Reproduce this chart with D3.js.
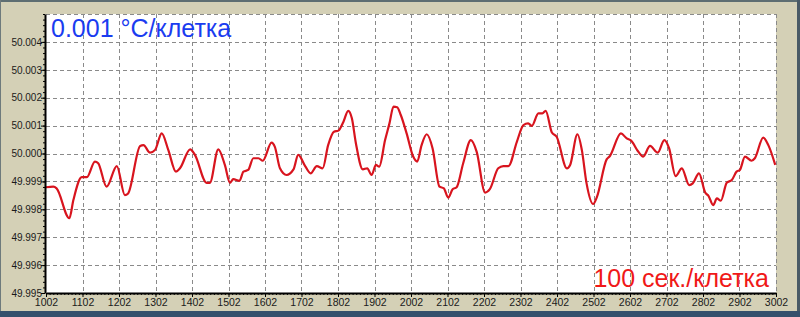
<!DOCTYPE html>
<html>
<head>
<meta charset="utf-8">
<script src="https://cdn.jsdelivr.net/npm/d3@7"></script>
<style>
  html, body { margin: 0; padding: 0; background: #d4d0b6; }
  svg { display: block; }
</style>
</head>
<body>
<script>
// ---- data ----
const times = [1002,1022,1031,1066,1077,1100,1114,1136,1145,1168,1196,1218,1227,1260,1269,1287,1301,1319,1337,1358,1369,1397,1410,1442,1451,1474,1492,1506,1515,1532,1543,1556,1570,1584,1596,1620,1629,1643,1661,1680,1693,1712,1727,1744,1760,1775,1791,1803,1817,1830,1840,1851,1870,1882,1894,1906,1915,1931,1943,1954,1964,1974,1990,2008,2019,2031,2045,2061,2080,2092,2104,2116,2127,2145,2166,2182,2205,2218,2241,2255,2269,2292,2310,2323,2333,2351,2362,2371,2388,2401,2429,2438,2458,2470,2483,2501,2511,2538,2547,2577,2593,2605,2625,2638,2657,2678,2696,2709,2727,2744,2764,2774,2791,2808,2817,2830,2840,2851,2867,2881,2894,2903,2917,2935,2944,2967,2981,3000];
const temps = [49.99879,49.99881,49.99875,49.99768,49.99833,49.99915,49.99915,49.99971,49.99965,49.99881,49.99955,49.99851,49.99857,50.00027,50.00030,50.00003,50.00013,50.00072,50.00013,49.99935,49.99947,50.00015,49.99995,49.99895,49.99895,50.00015,49.99959,49.99895,49.99908,49.99902,49.99935,49.99941,49.99983,49.99983,49.99974,50.00039,50.00024,49.99947,49.99923,49.99943,49.99995,49.99955,49.99929,49.99955,49.99947,50.00030,50.00078,50.00082,50.00114,50.00153,50.00126,50.00037,49.99943,49.99947,49.99923,49.99959,49.99953,50.00048,50.00108,50.00168,50.00166,50.00138,50.00072,49.99989,49.99971,50.00030,50.00069,50.00019,49.99881,49.99875,49.99842,49.99872,49.99879,49.99965,50.00048,50.00006,49.99860,49.99872,49.99947,49.99955,49.99955,50.00042,50.00102,50.00108,50.00099,50.00144,50.00144,50.00153,50.00075,50.00060,49.99947,49.99959,50.00069,50.00013,49.99893,49.99819,49.99843,49.99979,49.99991,50.00072,50.00054,50.00046,50.00006,49.99989,50.00027,50.00003,50.00048,50.00019,49.99919,49.99947,49.99887,49.99893,49.99929,49.99860,49.99848,49.99815,49.99839,49.99831,49.99895,49.99905,49.99935,49.99941,49.99989,49.99974,49.99983,50.00057,50.00030,49.99959];
const xTickValues = [1002,1102,1202,1302,1402,1502,1602,1702,1802,1902,2002,2102,2202,2302,2402,2502,2602,2702,2802,2902,3002];
const yTickValues = [49.995,49.996,49.997,49.998,49.999,50.000,50.001,50.002,50.003,50.004];
const yLabel = "0.001 °C/клетка";
const xLabel = "100 сек./клетка";

// ---- layout ----
const W = 800, H = 317;
const L = 46, R = 776, T = 14, B = 293;

const svg = d3.select("body").append("svg").attr("width", W).attr("height", H);

// frame
svg.append("rect").attr("x",0).attr("y",0).attr("width",W).attr("height",H).attr("fill","#d4d0b6");
svg.append("rect").attr("x",0).attr("y",0).attr("width",W).attr("height",2).attr("fill","#5e6e72");
svg.append("rect").attr("x",0).attr("y",0).attr("width",1).attr("height",H).attr("fill","#6e7a7c");
svg.append("rect").attr("x",W-3).attr("y",0).attr("width",3).attr("height",H).attr("fill","#4a5a66");
svg.append("rect").attr("x",0).attr("y",H-6).attr("width",W).attr("height",6).attr("fill","#34506c");

const x = d3.scaleLinear().domain([1002, 3002]).range([L, R]);
const y = d3.scaleLinear().domain([49.995, 50.005]).range([B, T]);

// plot background
svg.append("rect").attr("x",L).attr("y",T).attr("width",R-L).attr("height",B-T).attr("fill","#ffffff");

// grid
const grid = svg.append("g").attr("stroke","#8a8a8a").attr("stroke-width",1).attr("stroke-dasharray","4,3");
grid.selectAll("line.v").data(xTickValues.slice(1)).join("line")
  .attr("x1", d => Math.round(x(d)) + 0.5).attr("x2", d => Math.round(x(d)) + 0.5)
  .attr("y1", T).attr("y2", B);
grid.selectAll("line.h").data(yTickValues.slice(1).concat([50.005])).join("line")
  .attr("x1", L).attr("x2", R)
  .attr("y1", d => Math.round(y(d)) + 0.5).attr("y2", d => Math.round(y(d)) + 0.5);

// curve
const line = d3.line()
  .x((d,i) => x(times[i]))
  .y(d => y(d))
  .curve(d3.curveMonotoneX);
svg.append("path").datum(temps)
  .attr("d", line)
  .attr("fill","none")
  .attr("stroke","#d8141e")
  .attr("stroke-width",2.2)
  .attr("stroke-linejoin","round");

// axes
const fontFam = "'Liberation Sans', Arial, sans-serif";
const xMinor = d3.range(1002, 3003, 10);
const xAxisMinor = d3.axisBottom(x).tickValues(xMinor).tickSize(2).tickFormat("");
const gxm = svg.append("g").attr("transform", `translate(0,${B})`).call(xAxisMinor);
gxm.select(".domain").remove();
gxm.selectAll("line").attr("stroke","#000");

const xAxis = d3.axisBottom(x).tickValues(xTickValues).tickSize(4).tickSizeOuter(0).tickFormat(d3.format("d"));
const gx = svg.append("g").attr("transform", `translate(0,${B})`).call(xAxis);
gx.select(".domain").attr("stroke","#000").attr("stroke-width",2);
gx.selectAll(".tick line").attr("stroke","#000");
gx.selectAll(".tick text").attr("font-family", fontFam).attr("font-size","10.5px").attr("fill","#1a1a1a").attr("dy","0.55em");

const yMinor = d3.range(0, 51).map(i => 49.995 + i * 0.0002);
const yAxisMinor = d3.axisLeft(y).tickValues(yMinor).tickSize(2).tickFormat("");
const gym = svg.append("g").attr("transform", `translate(${L-1},0)`).call(yAxisMinor);
gym.select(".domain").remove();
gym.selectAll("line").attr("stroke","#000");

const yAxis = d3.axisLeft(y).tickValues(yTickValues).tickSize(4).tickSizeOuter(0).tickFormat(d3.format(".3f"));
const gy = svg.append("g").attr("transform", `translate(${L-1},0)`).call(yAxis);
gy.select(".domain").attr("stroke","#000").attr("stroke-width",2);
gy.selectAll(".tick line").attr("stroke","#000");
gy.selectAll(".tick text").attr("font-family", fontFam).attr("font-size","10px").attr("fill","#1a1a1a").attr("x",-3);

// annotations
svg.append("text").attr("x", 51).attr("y", 37)
  .attr("font-family", fontFam).attr("font-size","25px").attr("fill","#1a3cf0")
  .text(yLabel);
svg.append("text").attr("x", 769).attr("y", 287).attr("text-anchor","end")
  .attr("font-family", fontFam).attr("font-size","25px").attr("fill","#f01818")
  .text(xLabel);
</script>
</body>
</html>
